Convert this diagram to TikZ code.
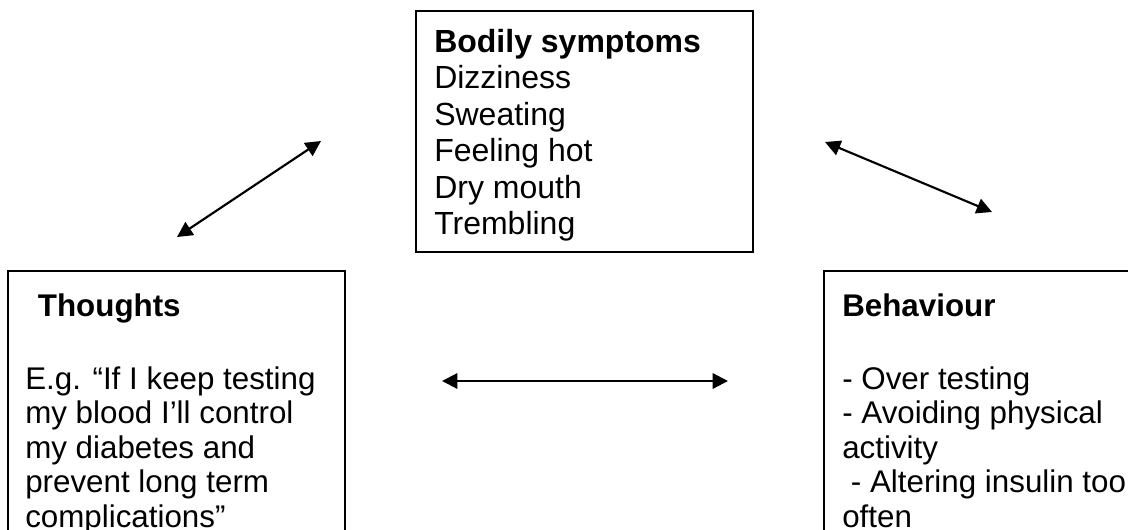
\documentclass[tikz,border=0pt]{standalone}
\usepackage{fontspec}
\setmainfont{Liberation Sans}
\usetikzlibrary{arrows.meta}
\newcommand{\textlines}[1]{\vtop{\hsize=330pt\parindent=0pt\lineskiplimit=-40pt\lineskip=0pt #1}}
\begin{document}
\begin{tikzpicture}[x=0.75pt,y=-0.75pt,
  box/.style={draw=black, line width=1.5pt, inner sep=0pt, fill=none},
  txt/.style={anchor=base west, inner sep=0pt},
  topfont/.style={font=\fontsize{24}{27.4}\selectfont},
  sidefont/.style={font=\fontsize{23.5}{25.9}\selectfont},
  conn/.style={line width=1.6pt, {Triangle[length=11.5pt,width=11.5pt]}-{Triangle[length=11.5pt,width=11.5pt]}}]
\clip (0,0) rectangle (1128,529);
\fill[white] (0,0) rectangle (1128,529);
% boxes
\node[box, minimum width=252.75pt, minimum height=180.75pt] (top) at (584.5,131.5) {};
\node[box, minimum width=252.75pt, minimum height=216.75pt] (left) at (176.5,415.5) {};
\node[box, minimum width=237pt, minimum height=216.75pt] (right) at (982,415.5) {};
% texts
\node[txt, topfont] (ttop) at (434,52) {\textlines{\textbf{Bodily symptoms}\\Dizziness\\Sweating\\Feeling hot\\Dry mouth\\Trembling}};
\node[txt, sidefont] (tleft) at (25,316) {\textlines{\hspace*{9.5pt}\textbf{Thoughts}\\[28.85pt]E.g. “If I keep testing\\my blood I’ll control\\my diabetes and\\prevent long term\\complications”}};
\node[txt, sidefont] (tright) at (842,316) {\textlines{\textbf{Behaviour}\\[28.85pt]- Over testing\\- Avoiding physical\\activity\\\hspace*{6.5pt}- Altering insulin too\\often}};
% connectors
\coordinate (a1) at (177,237);
\coordinate (a2) at (321,141);
\coordinate (b1) at (825,142);
\coordinate (b2) at (992,212);
\coordinate (c1) at (442,381);
\coordinate (c2) at (728,381);
\draw[conn] (a1) -- (a2);
\draw[conn] (b1) -- (b2);
\draw[conn] (c1) -- (c2);
\end{tikzpicture}
\end{document}
